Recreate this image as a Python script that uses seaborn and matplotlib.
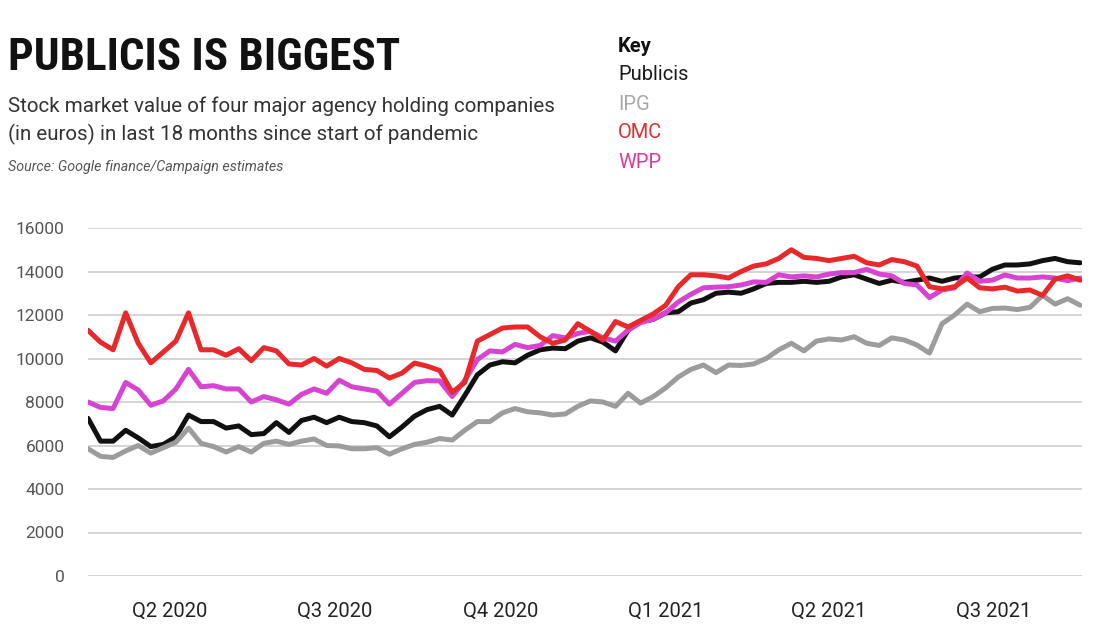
import pandas as pd
import numpy as np
import seaborn as sns
import matplotlib.pyplot as plt
import matplotlib.dates as mdates
from matplotlib.transforms import blended_transform_factory

# weekly readings, Apr 2020 -> start of Oct 2021 (80 points each)
companies = ["Publicis", "IPG", "WPP", "OMC"]
publicis = [7250, 6200, 6200, 6700, 6350, 5950, 6050, 6400, 7400, 7100,
            7100, 6800, 6900, 6500, 6550, 7050, 6600, 7150, 7300, 7050,
            7300, 7100, 7050, 6900, 6400, 6850, 7350, 7650, 7800, 7400,
            8300, 9250, 9700, 9850, 9800, 10150, 10400, 10480, 10450, 10800,
            10950, 10750, 10350, 11300, 11700, 11800, 12100, 12150, 12550, 12700,
            13000, 13050, 13000, 13200, 13450, 13500, 13500, 13550, 13500, 13550,
            13750, 13850, 13650, 13450, 13600, 13500, 13600, 13700, 13550, 13700,
            13750, 13750, 14100, 14300, 14300, 14350, 14500, 14600, 14450, 14400]
ipg = [5850, 5500, 5450, 5750, 6000, 5650, 5900, 6150, 6800, 6100,
       5950, 5700, 5950, 5700, 6100, 6200, 6050, 6200, 6300, 6000,
       5980, 5850, 5850, 5900, 5600, 5850, 6050, 6150, 6320, 6250,
       6700, 7100, 7100, 7500, 7700, 7550, 7500, 7400, 7450, 7800,
       8050, 8000, 7800, 8400, 7950, 8250, 8650, 9150, 9500, 9700,
       9350, 9700, 9680, 9750, 10000, 10400, 10700, 10350, 10800, 10900,
       10850, 11000, 10700, 10600, 10950, 10850, 10620, 10250, 11600, 12000,
       12500, 12150, 12300, 12320, 12250, 12350, 12900, 12500, 12750, 12450]
wpp = [8000, 7750, 7700, 8900, 8550, 7850, 8050, 8600, 9500, 8700,
       8750, 8600, 8600, 8000, 8250, 8100, 7900, 8350, 8600, 8400,
       9000, 8700, 8600, 8500, 7900, 8400, 8900, 8980, 8970, 8250,
       9000, 9950, 10350, 10300, 10650, 10500, 10600, 11050, 10950, 11150,
       11250, 10950, 10800, 11300, 11650, 11800, 12100, 12600, 12950, 13250,
       13280, 13300, 13380, 13520, 13500, 13850, 13750, 13800, 13750, 13880,
       13950, 13950, 14100, 13880, 13800, 13450, 13380, 12800, 13150, 13250,
       13930, 13550, 13600, 13840, 13700, 13700, 13750, 13700, 13580, 13700]
omc = [11300, 10750, 10400, 12100, 10700, 9800, 10300, 10800, 12100, 10400,
       10400, 10150, 10450, 9900, 10500, 10350, 9750, 9700, 10000, 9650,
       10000, 9800, 9500, 9450, 9100, 9330, 9790, 9650, 9450, 8450,
       8900, 10800, 11100, 11400, 11450, 11450, 11000, 10700, 10850, 11600,
       11250, 10850, 11700, 11450, 11750, 12050, 12450, 13300, 13850, 13850,
       13800, 13700, 14000, 14250, 14350, 14600, 15000, 14650, 14600, 14500,
       14600, 14700, 14400, 14300, 14550, 14450, 14250, 13300, 13200, 13300,
       13700, 13250, 13200, 13280, 13100, 13150, 12900, 13650, 13800, 13600]

colors = {"Publicis": "#111111", "IPG": "#9c9c9c", "WPP": "#d844d2", "OMC": "#e8292b"}
key_colors = {"Publicis": "#1a1a1a", "IPG": "#a8a8a8", "OMC": "#d8302f", "WPP": "#e0389a"}
y_ticks = [0, 2000, 4000, 6000, 8000, 10000, 12000, 14000, 16000]
quarter_labels = ["Q2 2020", "Q3 2020", "Q4 2020", "Q1 2021", "Q2 2021", "Q3 2021"]

dates = pd.date_range("2020-04-01", "2021-10-03", periods=len(publicis))
df = pd.DataFrame({"date": dates, "Publicis": publicis, "IPG": ipg,
                   "WPP": wpp, "OMC": omc})
long_df = df.melt(id_vars="date", var_name="company", value_name="value")

sns.set_style("white")
plt.rcParams["font.family"] = ["Roboto", "DejaVu Sans"]

fig = plt.figure(figsize=(11.08, 6.38), dpi=100)
ax = fig.add_axes([88 / 1108, 62 / 638, 994 / 1108, 348 / 638])

sns.lineplot(data=long_df, x="date", y="value", hue="company",
             hue_order=companies, palette=colors, linewidth=3.6,
             legend=False, ax=ax)

ax.set_ylim(0, 16000)
ax.set_xlim(pd.Timestamp("2020-04-01"), pd.Timestamp("2021-10-04"))
ax.set_yticks(y_ticks)
ax.set_yticklabels([str(v) for v in y_ticks], fontsize=12.5, color="#555555")
ax.yaxis.grid(True, color="#d4d4d4", linewidth=1.4)
ax.set_axisbelow(True)
for s in ["top", "right", "left", "bottom"]:
    ax.spines[s].set_visible(False)
ax.tick_params(axis="y", length=0, pad=17)

ax.xaxis.set_major_locator(mdates.MonthLocator(bymonth=[1, 4, 7, 10]))
ax.xaxis.set_minor_locator(mdates.MonthLocator())
ax.xaxis.set_major_formatter(plt.NullFormatter())
ax.tick_params(axis="x", which="major", length=10, width=1.4, color="#cccccc")
ax.tick_params(axis="x", which="minor", length=6, width=1.4, color="#cccccc")
ax.set_xlabel("")
ax.set_ylabel("")

# quarter labels centred between the quarter ticks
qstarts = pd.date_range("2020-04-01", periods=7, freq="QS-JAN")
trans = blended_transform_factory(ax.transData, ax.transAxes)
for i, lab in enumerate(quarter_labels):
    mid = qstarts[i] + (qstarts[i + 1] - qstarts[i]) / 2
    ax.text(mdates.date2num(mid), -0.1, lab, transform=trans, ha="center",
            va="center", fontsize=14.5, color="#222222")

fig.text(8 / 1108, 1 - 58 / 638, "PUBLICIS IS BIGGEST", fontsize=32.5,
         fontweight="black", fontstretch="condensed",
         family=["Roboto Condensed", "Open Sans Condensed", "Roboto"],
         va="center", ha="left", color="#111111")
fig.text(8 / 1108, 1 - 106 / 638,
         "Stock market value of four major agency holding companies",
         fontsize=14.8, va="center", color="#333333")
fig.text(8 / 1108, 1 - 134 / 638,
         "(in euros) in last 18 months since start of pandemic",
         fontsize=14.8, va="center", color="#333333")
fig.text(8 / 1108, 1 - 167 / 638, "Source: Google finance/Campaign estimates",
         fontsize=10.3, style="italic", va="center", color="#555555")

fig.text(618 / 1108, 1 - 46 / 638, "Key", fontsize=14.5, fontweight="bold",
         va="center", color="#111111")
for i, name in enumerate(["Publicis", "IPG", "OMC", "WPP"]):
    fig.text(618 / 1108, 1 - (75 + 29 * i) / 638, name, fontsize=14.5,
             va="center", color=key_colors[name])

fig.savefig("out.png", dpi=100)
